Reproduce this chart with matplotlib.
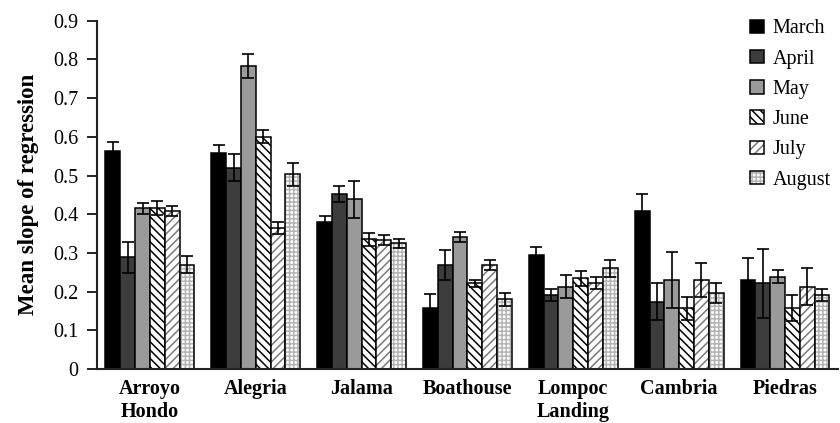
import numpy as np
import matplotlib
matplotlib.use("Agg")
import matplotlib.pyplot as plt

plt.rcParams['font.family'] = ['Liberation Serif', 'DejaVu Serif']
plt.rcParams['hatch.linewidth'] = 1.1

sites = ['Arroyo\nHondo', 'Alegria', 'Jalama', 'Boathouse', 'Lompoc\nLanding', 'Cambria', 'Piedras']
months = ['March', 'April', 'May', 'June', 'July', 'August']

# mean slope per month, one value per site
march = [0.563, 0.559, 0.379, 0.158, 0.295, 0.409, 0.230]
april = [0.289, 0.520, 0.452, 0.269, 0.191, 0.174, 0.221]
may = [0.415, 0.783, 0.438, 0.342, 0.213, 0.230, 0.239]
june = [0.417, 0.600, 0.335, 0.221, 0.234, 0.157, 0.157]
july = [0.409, 0.365, 0.333, 0.269, 0.223, 0.230, 0.213]
august = [0.269, 0.503, 0.325, 0.180, 0.260, 0.196, 0.191]

# error bar half-lengths
march_err = [0.024, 0.021, 0.017, 0.035, 0.021, 0.043, 0.056]
april_err = [0.040, 0.035, 0.020, 0.038, 0.015, 0.047, 0.090]
may_err = [0.015, 0.030, 0.048, 0.013, 0.030, 0.073, 0.017]
june_err = [0.018, 0.017, 0.016, 0.010, 0.020, 0.030, 0.034]
july_err = [0.013, 0.015, 0.012, 0.013, 0.016, 0.043, 0.047]
august_err = [0.022, 0.030, 0.012, 0.016, 0.021, 0.025, 0.015]

values = [march, april, may, june, july, august]
errors = [march_err, april_err, may_err, june_err, july_err, august_err]

faces = ['#000000', '#3c3c3c', '#9a9a9a', 'white', 'white', 'white']
hatches = [None, None, None, '\\\\\\\\', '////', '++++']
hatch_cols = [None, None, None, '#000000', '#7a7a7a', '#b4b4b4']

fig = plt.figure(figsize=(8.4, 4.23), dpi=100)
ax = fig.add_axes([0.1155, 0.1277, 0.882, 0.8233])

x = np.arange(len(sites))
w = 0.14
handles = []
for i, m in enumerate(months):
    pos = x + (i - 2.5) * w
    if hatches[i]:
        b1 = ax.bar(pos, values[i], w, color=faces[i], edgecolor=hatch_cols[i],
                    hatch=hatches[i], linewidth=0)
        b2 = ax.bar(pos, values[i], w, color='none', edgecolor='black', linewidth=1.1)
        handles.append((b1[0], b2[0]))
    else:
        b = ax.bar(pos, values[i], w, color=faces[i], edgecolor='black', linewidth=1.1)
        handles.append(b[0])
    ax.errorbar(pos, values[i], yerr=errors[i], fmt='none', ecolor='black',
                elinewidth=1.2, capsize=4, capthick=1.2)

ax.set_xlim(-0.5, 6.5)
ax.set_ylim(0, 0.9)
ax.set_yticks(np.arange(0, 0.91, 0.1))
ax.set_yticklabels(['0', '0.1', '0.2', '0.3', '0.4', '0.5', '0.6', '0.7', '0.8', '0.9'], fontsize=14.5)
ax.set_xticks(x)
ax.set_xticklabels(sites, fontsize=14.5, fontweight='bold', linespacing=1.2)
ax.tick_params(axis='x', length=0, pad=7)
ax.tick_params(axis='y', length=7, width=1.2, direction='out', pad=6.5)
ax.set_ylabel('Mean slope of regression', fontsize=16.5, fontweight='bold', labelpad=10)

for s in ['top', 'right']:
    ax.spines[s].set_visible(False)
for s in ['left', 'bottom']:
    ax.spines[s].set_linewidth(1.5)
    ax.spines[s].set_color('#222222')

ax.legend(handles, months, loc='upper left', bbox_to_anchor=(0.882, 1.004),
          frameon=False, fontsize=14.5, handlelength=0.65, handleheight=0.65,
          handletextpad=0.45, labelspacing=0.56, borderpad=0, borderaxespad=0)

fig.savefig('out.png', dpi=100)
